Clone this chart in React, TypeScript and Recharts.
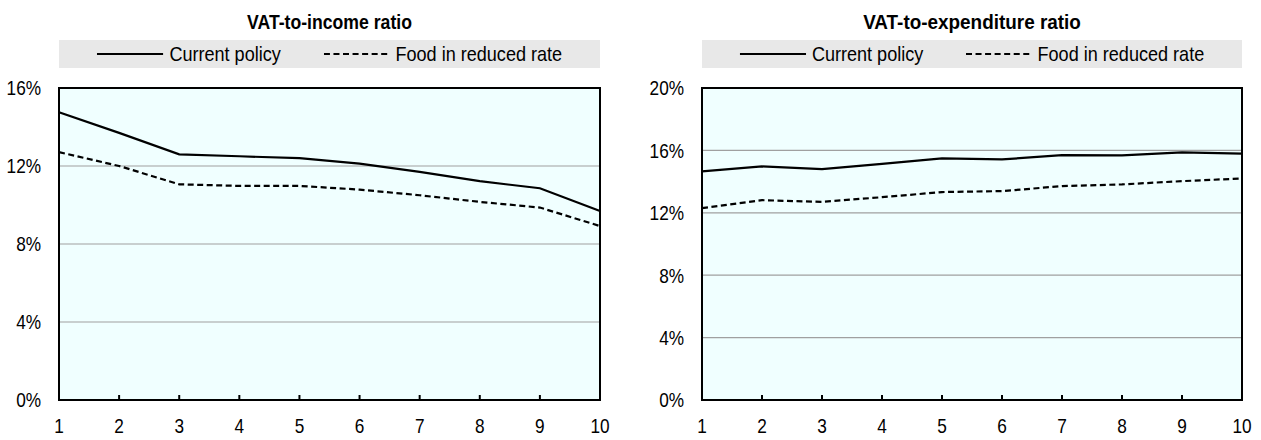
import { LineChart, Line, XAxis, YAxis, CartesianGrid, ReferenceArea } from "recharts";

const deciles = [1, 2, 3, 4, 5, 6, 7, 8, 9, 10];

// VAT-to-income ratio (%)
const incomeCurrent = [14.76, 13.7, 12.6, 12.5, 12.4, 12.12, 11.7, 11.22, 10.86, 9.69];
const incomeFood = [12.71, 12.0, 11.06, 10.98, 10.98, 10.79, 10.5, 10.16, 9.87, 8.92];

// VAT-to-expenditure ratio (%)
const expCurrent = [14.65, 14.97, 14.8, 15.14, 15.49, 15.42, 15.7, 15.68, 15.87, 15.79];
const expFood = [12.3, 12.81, 12.7, 13.0, 13.33, 13.39, 13.71, 13.82, 14.03, 14.2];

const incomeTicks = [0, 4, 8, 12, 16];
const expTicks = [0, 4, 8, 12, 16, 20];

const seriesNames = ["Current policy", "Food in reduced rate"];

const FONT = "'Liberation Sans', Arial, sans-serif";
const NARROW = 0.82; // squeeze Liberation Sans to look like Arial Narrow
const LEGEND_NARROW = 0.86;
const FS = 21;
const DASH = "6 3.5";

const makeRows = (a: number[], b: number[]) =>
  deciles.map((d, i) => ({ decile: d, current: a[i], food: b[i] }));

const NarrowTick = (props: any) => {
  const { x, y, payload, textAnchor, fmt, dy } = props;
  return (
    <text
      x={0}
      y={0}
      dy={dy}
      transform={`translate(${x},${y}) scale(${NARROW},1)`}
      textAnchor={textAnchor}
      fill="#000"
      fontSize={FS}
      fontFamily={FONT}
    >
      {fmt ? fmt(payload.value) : payload.value}
    </text>
  );
};

type PanelProps = {
  title: string;
  titleScale: number;
  left: number;
  width: number;
  marginLeft: number;
  marginRight: number;
  current: number[];
  food: number[];
  ticks: number[];
};

const Panel = ({ title, titleScale, left, width, marginLeft, marginRight, current, food, ticks }: PanelProps) => {
  const rows = makeRows(current, food);
  const yMax = ticks[ticks.length - 1];
  const plotLeft = marginLeft + 45;
  const plotWidth = width - plotLeft - marginRight;
  return (
    <div style={{ position: "absolute", left, top: 0, width, height: 440, fontFamily: FONT }}>
      <div
        style={{
          position: "absolute",
          left: plotLeft,
          width: plotWidth,
          top: 10,
          textAlign: "center",
          fontWeight: "bold",
          fontSize: FS,
          color: "#000",
          whiteSpace: "nowrap",
          transform: `scaleX(${titleScale})`,
        }}
      >
        {title}
      </div>
      <div
        style={{
          position: "absolute",
          left: plotLeft,
          width: plotWidth,
          top: 40,
          height: 28,
          background: "#e8e8e8",
        }}
      >
        <div
          style={{
            width: "100%",
            height: "100%",
            display: "flex",
            alignItems: "center",
            justifyContent: "center",
            fontSize: FS,
            color: "#000",
            whiteSpace: "nowrap",
            transform: `scaleX(${LEGEND_NARROW})`,
          }}
        >
          <svg width={78} height={4} style={{ marginRight: 7 }}>
            <line x1={0} y1={2} x2={78} y2={2} stroke="#000" strokeWidth={2.2} />
          </svg>
          <span style={{ marginRight: 50 }}>{seriesNames[0]}</span>
          <svg width={77} height={4} style={{ marginRight: 7 }}>
            <line x1={0} y1={2} x2={77} y2={2} stroke="#000" strokeWidth={2.2} strokeDasharray="7 4.1" />
          </svg>
          <span>{seriesNames[1]}</span>
        </div>
      </div>
      <LineChart
        width={width}
        height={440}
        data={rows}
        margin={{ top: 88, right: marginRight, bottom: 10, left: marginLeft }}
        style={{ position: "absolute", left: 0, top: 0 }}
      >
        <CartesianGrid horizontal vertical={false} stroke="#a0a0a0" strokeWidth={1.2} fill="#f0ffff" />
        <XAxis
          dataKey="decile"
          type="number"
          domain={[1, 10]}
          ticks={deciles}
          height={30}
          stroke="#000"
          strokeWidth={2}
          tickSize={-5}
          tickMargin={23}
          tick={<NarrowTick dy="0.72em" />}
          tickLine={{ stroke: "#000", strokeWidth: 2 }}
        />
        <YAxis
          type="number"
          domain={[0, yMax]}
          ticks={ticks}
          width={45}
          stroke="#000"
          strokeWidth={2}
          tickSize={0}
          tickMargin={18}
          tickLine={false}
          tick={<NarrowTick dy="0.355em" fmt={(v: number) => `${v}%`} />}
        />
        <ReferenceArea
          x1={1}
          x2={10}
          y1={0}
          y2={yMax}
          fill="none"
          stroke="#000"
          strokeWidth={2}
          ifOverflow="visible"
        />
        <Line
          dataKey="current"
          name={seriesNames[0]}
          stroke="#000"
          strokeWidth={2.2}
          dot={false}
          isAnimationActive={false}
        />
        <Line
          dataKey="food"
          name={seriesNames[1]}
          stroke="#000"
          strokeWidth={2.2}
          strokeDasharray={DASH}
          dot={false}
          isAnimationActive={false}
        />
      </LineChart>
    </div>
  );
};

export default function App() {
  return (
    <div style={{ position: "absolute", left: 0, top: 0, width: 1261, height: 440, background: "#fff" }}>
      <Panel
        title="VAT-to-income ratio"
        titleScale={0.84}
        left={0}
        width={620}
        marginLeft={14}
        marginRight={20}
        current={incomeCurrent}
        food={incomeFood}
        ticks={incomeTicks}
      />
      <Panel
        title="VAT-to-expenditure ratio"
        titleScale={0.9}
        left={640}
        width={621}
        marginLeft={17}
        marginRight={19}
        current={expCurrent}
        food={expFood}
        ticks={expTicks}
      />
    </div>
  );
}
